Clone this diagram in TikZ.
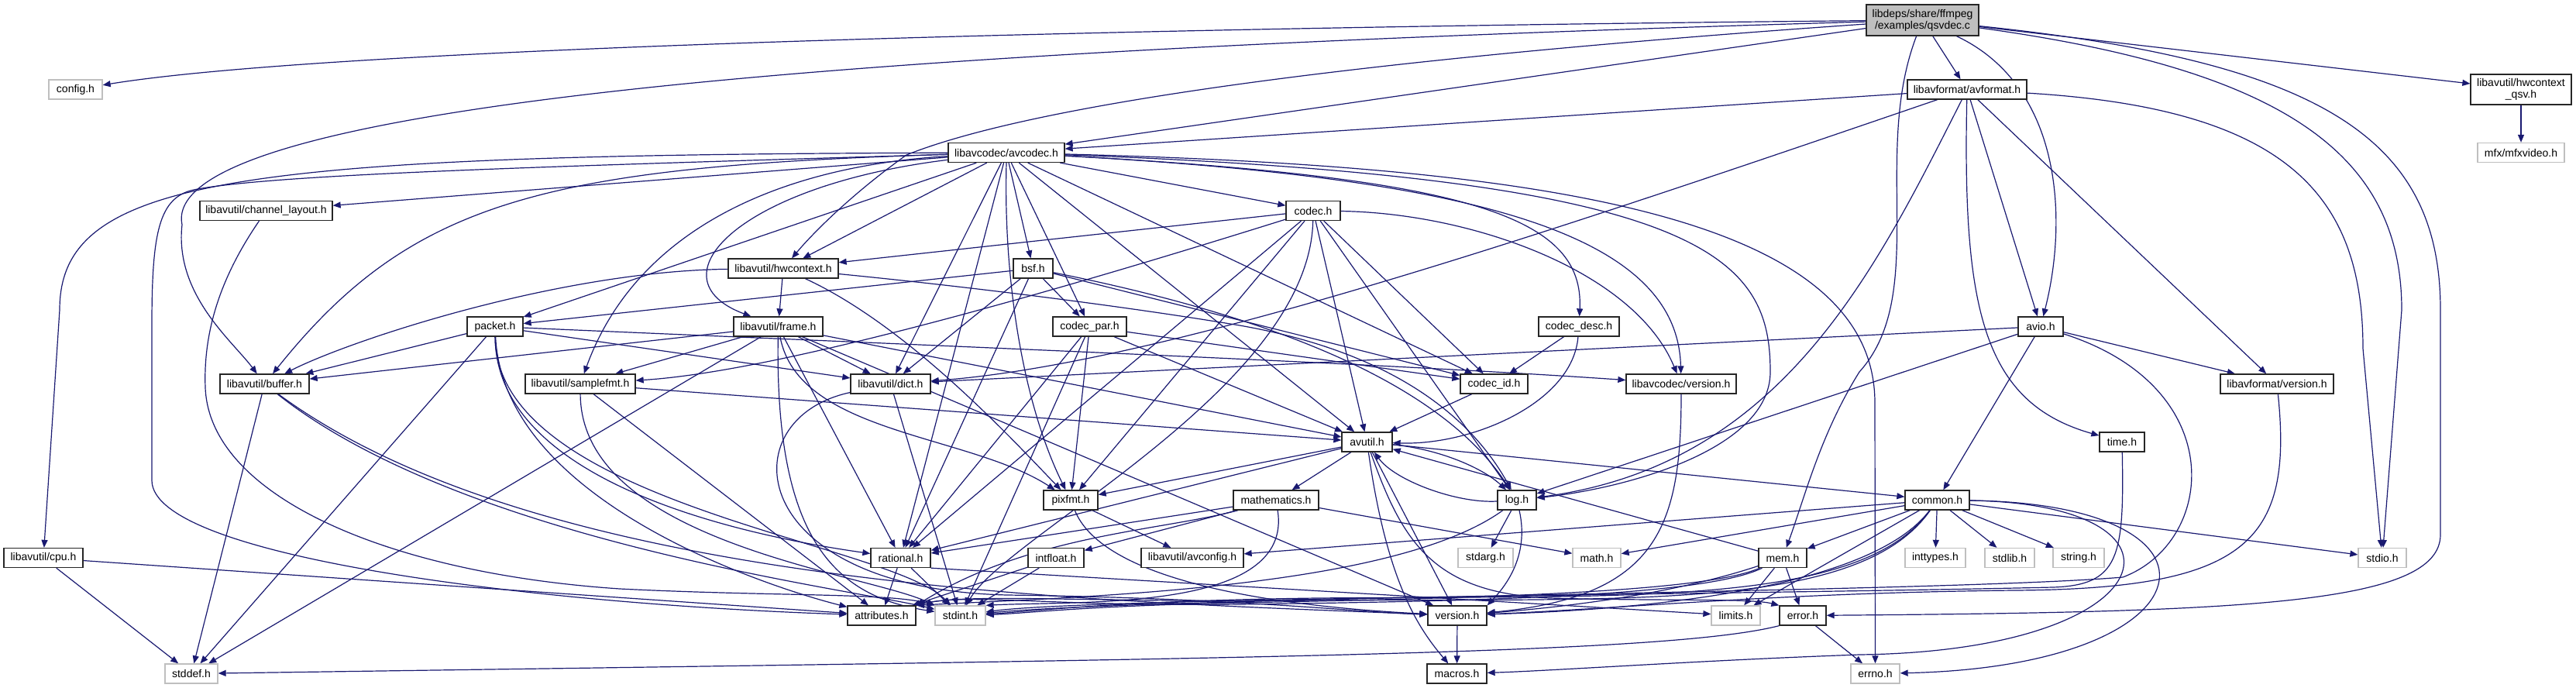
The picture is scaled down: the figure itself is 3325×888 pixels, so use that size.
\documentclass[tikz,border=0pt]{standalone}
\usepackage{fontspec}
\setmainfont{Liberation Sans}
\usetikzlibrary{arrows.meta}
\pgfdeclarelayer{bg}
\pgfsetlayers{bg,main}
\definecolor{edgeblue}{RGB}{25,25,112}
\definecolor{extgray}{RGB}{191,191,191}
\begin{document}
\begin{tikzpicture}[x=1pt,y=-1pt,
  box/.style={draw, line width=1.3pt, fill=white, inner sep=0pt, minimum height=25pt,
              font=\fontsize{14}{15}\selectfont, align=center},
  docbox/.style={box, draw=black!85},
  extbox/.style={box, draw=extgray},
  rootbox/.style={box, draw=black!85, fill=extgray, minimum height=40pt},
  dep/.style={draw=edgeblue, line width=1.2pt, -{Triangle[length=10pt,width=8pt]}}]
\useasboundingbox (0,0) rectangle (3325,888);

% ---------- nodes ----------
\node[rootbox, minimum width=145pt] (qsv) at (2481.5,26) {libdeps/share/ffmpeg\\/examples/qsvdec.c};
\node[extbox, minimum width=69pt] (config) at (97.5,115.5) {config.h};
\node[docbox, minimum width=154pt] (avformat) at (2539,115.5) {libavformat/avformat.h};
\node[docbox, minimum width=130pt, minimum height=39pt] (hwqsv) at (3254,115.5) {libavutil/hwcontext\\\_qsv.h};
\node[docbox, minimum width=150pt] (avcodec) at (1299,197) {libavcodec/avcodec.h};
\node[extbox, minimum width=112pt] (mfx) at (3254,197) {mfx/mfxvideo.h};
\node[docbox, minimum width=171pt] (chlayout) at (343.5,272) {libavutil/channel\_layout.h};
\node[docbox, minimum width=70pt] (codec) at (1695,272) {codec.h};
\node[docbox, minimum width=142pt] (hwctx) at (1011,346.5) {libavutil/hwcontext.h};
\node[docbox, minimum width=51pt] (bsf) at (1333.5,346.5) {bsf.h};
\node[docbox, minimum width=72pt] (packet) at (639,421.5) {packet.h};
\node[docbox, minimum width=115pt] (frame) at (1004.5,421.5) {libavutil/frame.h};
\node[docbox, minimum width=95pt] (codecpar) at (1406.5,421.5) {codec\_par.h};
\node[docbox, minimum width=104pt] (codecdesc) at (2038,421.5) {codec\_desc.h};
\node[docbox, minimum width=58pt] (avio) at (2634,421.5) {avio.h};
\node[docbox, minimum width=115pt] (buffer) at (341.5,495.5) {libavutil/buffer.h};
\node[docbox, minimum width=142pt] (samplefmt) at (749,495.5) {libavutil/samplefmt.h};
\node[docbox, minimum width=103pt] (dict) at (1149.5,495.5) {libavutil/dict.h};
\node[docbox, minimum width=87pt] (codecid) at (1928.5,495.5) {codec\_id.h};
\node[docbox, minimum width=142pt] (lavcver) at (2170,495.5) {libavcodec/version.h};
\node[docbox, minimum width=146pt] (lavfver) at (2939,495.5) {libavformat/version.h};
\node[docbox, minimum width=65pt] (avutil) at (1764.5,570.5) {avutil.h};
\node[docbox, minimum width=58pt] (timeh) at (2739,570.5) {time.h};
\node[docbox, minimum width=70pt] (pixfmt) at (1382,645.5) {pixfmt.h};
\node[docbox, minimum width=110pt] (mathem) at (1647,645.5) {mathematics.h};
\node[docbox, minimum width=50pt] (logh) at (1958,645.5) {log.h};
\node[docbox, minimum width=83pt] (common) at (2500.5,645.5) {common.h};
\node[docbox, minimum width=102pt] (cpu) at (56,720) {libavutil/cpu.h};
\node[docbox, minimum width=77pt] (rational) at (1162.5,720) {rational.h};
\node[docbox, minimum width=72pt] (intfloat) at (1363,720) {intfloat.h};
\node[docbox, minimum width=132pt] (avconfig) at (1539,720) {libavutil/avconfig.h};
\node[extbox, minimum width=71pt] (stdarg) at (1917.5,720) {stdarg.h};
\node[extbox, minimum width=62pt] (mathh) at (2061,720) {math.h};
\node[docbox, minimum width=62pt] (mem) at (2301,720) {mem.h};
\node[extbox, minimum width=78pt] (inttypes) at (2498,720) {inttypes.h};
\node[extbox, minimum width=64pt] (stdlib) at (2594,720) {stdlib.h};
\node[extbox, minimum width=66pt] (stringh) at (2683,720) {string.h};
\node[extbox, minimum width=62pt] (stdio) at (3075,720) {stdio.h};
\node[docbox, minimum width=88pt] (attributes) at (1138,794.5) {attributes.h};
\node[extbox, minimum width=65pt] (stdint) at (1239.5,794.5) {stdint.h};
\node[docbox, minimum width=76pt] (version) at (1881,794.5) {version.h};
\node[extbox, minimum width=63pt] (limits) at (2240.5,794.5) {limits.h};
\node[docbox, minimum width=60pt] (error) at (2327,794.5) {error.h};
\node[extbox, minimum width=68pt] (stddef) at (247,869.5) {stddef.h};
\node[docbox, minimum width=77pt] (macros) at (1880.5,869.5) {macros.h};
\node[extbox, minimum width=63pt] (errno) at (2420.5,869.5) {errno.h};

\begin{pgfonlayer}{bg}
% ---------- qsvdec.c ----------
\draw[dep] (qsv) .. controls (1600,34) and (450,58) .. (config);
\draw[dep] (qsv) -- (avformat);
\draw[dep] (qsv) -- (hwqsv);
\draw[dep] (qsv) -- (avcodec);
\draw[dep] (qsv) .. controls (1700,80) and (1320,140) .. (1170,200) .. controls (1100,250) and (1050,300) .. (hwctx);
\draw[dep] (qsv) .. controls (1300,60) and (200,120) .. (235,290) .. controls (225,380) and (300,440) .. (buffer);
\draw[dep] (qsv) .. controls (2660,110) and (2670,280) .. (avio);
\draw[dep] (qsv) .. controls (2415,200) and (2490,380) .. (2400,480) .. controls (2350,560) and (2330,640) .. (mem);
\draw[dep] (qsv) .. controls (2950,90) and (3100,200) .. (3100,400) -- (stdio);
\draw[dep] (qsv) .. controls (3000,80) and (3150,180) .. (3150,400) -- (3150,690) .. controls (3150,780) and (2900,790) .. (error);
\draw[dep] (hwqsv) -- (mfx);
% ---------- avformat.h ----------
\draw[dep] (avformat) -- (avcodec);
\draw[dep] (avformat) .. controls (2000,300) and (1500,470) .. (dict);
\draw[dep] (avformat) .. controls (2420,350) and (2300,600) .. (logh);
\draw[dep] (avformat) .. controls (2533,400) and (2560,520) .. (timeh);
\draw[dep] (avformat) -- (avio);
\draw[dep] (avformat) -- (lavfver);
\draw[dep] (avformat) .. controls (2950,140) and (3050,250) .. (3050,450) -- (stdio);
% ---------- avio.h ----------
\draw[dep] (avio) -- (dict);
\draw[dep] (avio) -- (logh);
\draw[dep] (avio) -- (common);
\draw[dep] (avio) -- (lavfver);
\draw[dep] (avio) .. controls (2880,500) and (2860,700) .. (2740,745) .. controls (2500,765) and (1500,770) .. (stdint);
% ---------- avcodec.h ----------
\draw[dep] (avcodec) .. controls (2000,215) and (2420,280) .. (2420,520) -- (errno);
\draw[dep] (avcodec) .. controls (1900,230) and (2165,300) .. (lavcver);
\draw[dep] (avcodec) .. controls (2200,230) and (2285,330) .. (2285,480) .. controls (2285,580) and (2100,630) .. (logh);
\draw[dep] (avcodec) -- (avutil);
\draw[dep] (avcodec) .. controls (1900,230) and (2045,280) .. (codecdesc);
\draw[dep] (avcodec) -- (codecid);
\draw[dep] (avcodec) -- (codec);
\draw[dep] (avcodec) -- (bsf);
\draw[dep] (avcodec) -- (codecpar);
\draw[dep] (avcodec.south) .. controls (1295,360) and (1320,520) .. (pixfmt);
\draw[dep] (avcodec) -- (dict);
\draw[dep] (avcodec) .. controls (950,240) and (840,360) .. (frame);
\draw[dep] (avcodec) -- (hwctx);
\draw[dep] (avcodec) -- (chlayout);
\draw[dep] (avcodec) .. controls (300,200) and (77,230) .. (77,400) -- (cpu);
\draw[dep] (avcodec) .. controls (700,215) and (530,260) .. (buffer);
\draw[dep] (avcodec) .. controls (1000,215) and (820,300) .. (samplefmt);
\draw[dep] (avcodec) .. controls (700,215) and (350,225) .. (250,245) .. controls (205,255) and (196,300) .. (196,420) -- (196,620) .. controls (196,720) and (700,780) .. (attributes);
\draw[dep] (avcodec) -- (rational);
\draw[dep] (avcodec) -- (packet);
% ---------- bsf.h ----------
\draw[dep] (bsf) -- (packet);
\draw[dep] (bsf) -- (dict);
\draw[dep] (bsf) -- (rational);
\draw[dep] (bsf) -- (codecpar);
\draw[dep] (bsf) -- (codecid);
\draw[dep] (bsf) .. controls (1600,400) and (1850,480) .. (logh);
% ---------- codec.h ----------
\draw[dep] (codec) -- (hwctx);
\draw[dep] (codec) -- (avutil);
\draw[dep] (codec) -- (logh);
\draw[dep] (codec) -- (pixfmt);
\draw[dep] (codec) -- (rational);
\draw[dep] (codec) .. controls (1350,380) and (1000,480) .. (samplefmt);
\draw[dep] (codec) -- (codecid);
\draw[dep] (codec) .. controls (1900,275) and (2110,350) .. (lavcver);
\draw[dep] (codec) .. controls (1690,500) and (1300,690) .. (stdint);
% ---------- codec_desc.h / codec_id.h ----------
\draw[dep] (codecdesc) .. controls (2030,520) and (1900,575) .. (avutil);
\draw[dep] (codecdesc) -- (codecid);
\draw[dep] (codecid) -- (avutil);
% ---------- codec_par.h ----------
\draw[dep] (codecpar) -- (stdint);
\draw[dep] (codecpar) -- (avutil);
\draw[dep] (codecpar) -- (rational);
\draw[dep] (codecpar) -- (pixfmt);
\draw[dep] (codecpar) -- (codecid);
% ---------- packet.h ----------
\draw[dep] (packet) -- (stddef);
\draw[dep] (packet) .. controls (640,650) and (1150,700) .. (stdint);
\draw[dep] (packet) .. controls (650,650) and (1000,760) .. (attributes);
\draw[dep] (packet) -- (buffer);
\draw[dep] (packet) -- (dict);
\draw[dep] (packet) .. controls (640,620) and (950,690) .. (rational);
\draw[dep] (packet) .. controls (1300,450) and (1800,470) .. (lavcver);
% ---------- hwcontext.h ----------
\draw[dep] (hwctx) .. controls (720,350) and (450,440) .. (buffer);
\draw[dep] (hwctx) -- (frame);
\draw[dep] (hwctx) .. controls (1250,370) and (1450,395) .. (1600,420) .. controls (1800,455) and (1900,540) .. (logh);
\draw[dep] (hwctx) .. controls (1170,420) and (1300,560) .. (pixfmt);
% ---------- frame.h ----------
\draw[dep] (frame) -- (stddef);
\draw[dep] (frame) .. controls (1000,700) and (1080,770) .. (stdint);
\draw[dep] (frame) -- (avutil);
\draw[dep] (frame) -- (buffer);
\draw[dep] (frame) -- (dict);
\draw[dep] (frame) -- (rational);
\draw[dep] (frame) -- (samplefmt);
\draw[dep] (frame) .. controls (1030,560) and (1250,560) .. (pixfmt);
\draw[dep] (frame) -- (version);
% ---------- buffer.h ----------
\draw[dep] (buffer) -- (stddef);
\draw[dep] (buffer) .. controls (600,700) and (1100,760) .. (stdint);
\draw[dep] (buffer) .. controls (700,760) and (1400,775) .. (version);
% ---------- samplefmt.h ----------
\draw[dep] (samplefmt) .. controls (750,700) and (1120,740) .. (stdint.north west);
\draw[dep] (samplefmt) -- (avutil);
\draw[dep] (samplefmt) -- (attributes);
% ---------- dict.h ----------
\draw[dep] (dict) -- (stdint);
\draw[dep] (dict) .. controls (940,540) and (960,760) .. (1300,768) .. controls (1600,772) and (1750,790) .. (version);
% ---------- cpu.h / channel_layout.h ----------
\draw[dep] (cpu) -- (stddef);
\draw[dep] (cpu) -- (attributes);
\draw[dep] (chlayout) .. controls (290,350) and (262,420) .. (265,500) .. controls (270,640) and (500,740) .. (800,760) .. controls (1000,770) and (1150,765) .. (stdint.north west);
% ---------- version headers / time.h ----------
\draw[dep] (lavcver) .. controls (2170,680) and (2140,770) .. (version);
\draw[dep] (lavfver) .. controls (2960,700) and (2900,760) .. (2600,762) .. controls (2300,765) and (2100,785) .. (version);
\draw[dep] (timeh) .. controls (2742,720) and (2735,755) .. (2650,758) .. controls (2200,768) and (1400,772) .. (stdint);
% ---------- avutil.h ----------
\draw[dep] (avutil) -- (common);
\draw[dep] (avutil) .. controls (1810,700) and (1850,765) .. (2000,772) .. controls (2150,776) and (2260,772) .. (error.north west);
\draw[dep] (avutil) -- (rational);
\draw[dep] (avutil) -- (version);
\draw[dep] (avutil) .. controls (1790,750) and (1830,810) .. (macros);
\draw[dep] (avutil) -- (mathem);
\draw[dep] (avutil) .. controls (1860,580) and (1915,605) .. (logh);
\draw[dep] (avutil) -- (pixfmt);
% ---------- common.h ----------
\draw[dep] (common) -- (inttypes);
\draw[dep] (common) -- (stdlib);
\draw[dep] (common) -- (stringh);
\draw[dep] (common) -- (stdio);
\draw[dep] (common) .. controls (2900,650) and (2860,860) .. (errno);
\draw[dep] (common) .. controls (2850,650) and (2800,840) .. (2400,845) .. controls (2200,852) and (2000,866) .. (macros);
\draw[dep] (common) -- (limits);
\draw[dep] (common) -- (mathh);
\draw[dep] (common) .. controls (2400,785) and (2100,768) .. (1700,772) .. controls (1450,775) and (1320,790) .. (stdint);
\draw[dep] (common) .. controls (2400,790) and (2100,772) .. (1700,775) .. controls (1400,778) and (1250,765) .. (attributes.north east);
\draw[dep] (common) .. controls (2400,780) and (2000,790) .. (version);
\draw[dep] (common) -- (avconfig);
\draw[dep] (common) -- (mem);
% ---------- mem.h ----------
\draw[dep] (mem) -- (limits);
\draw[dep] (mem) -- (error);
\draw[dep] (mem) -- (avutil);
\draw[dep] (mem) .. controls (2200,765) and (1900,772) .. (1600,778) .. controls (1400,782) and (1320,792) .. (stdint);
\draw[dep] (mem) .. controls (2200,770) and (1900,776) .. (1600,780) .. controls (1350,783) and (1250,765) .. (attributes.north east);
\draw[dep] (mem) .. controls (2150,770) and (2000,785) .. (version);
% ---------- error.h ----------
\draw[dep] (error) -- (errno);
\draw[dep] (error.south west) .. controls (2150,845) and (1600,850) .. (stddef);
% ---------- log.h ----------
\draw[dep] (logh) -- (stdarg);
\draw[dep] (logh) .. controls (1880,650) and (1800,620) .. (avutil);
\draw[dep] (logh) .. controls (1800,760) and (1400,770) .. (attributes.north east);
\draw[dep] (logh) .. controls (1975,720) and (1940,760) .. (version.north east);
% ---------- mathematics.h ----------
\draw[dep] (mathem) .. controls (1670,790) and (1400,775) .. (stdint.north east);
\draw[dep] (mathem) -- (mathh);
\draw[dep] (mathem) .. controls (1500,685) and (1330,690) .. (attributes.north east);
\draw[dep] (mathem) -- (rational);
\draw[dep] (mathem) -- (intfloat);
% ---------- rational.h / intfloat.h / pixfmt.h / version.h ----------
\draw[dep] (rational) -- (stdint);
\draw[dep] (rational.south east) -- (limits);
\draw[dep] (rational) -- (attributes);
\draw[dep] (intfloat) -- (stdint);
\draw[dep] (intfloat) -- (attributes);
\draw[dep] (pixfmt) -- (avconfig);
\draw[dep] (pixfmt) .. controls (1420,740) and (1600,780) .. (version);
\draw[dep] (version) -- (macros);
\end{pgfonlayer}
\end{tikzpicture}
\end{document}
